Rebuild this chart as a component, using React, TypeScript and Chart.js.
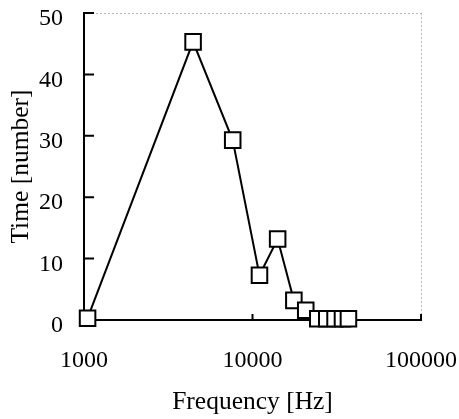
import React, { useEffect, useRef } from "react";
import { Chart, registerables } from "chart.js";

Chart.register(...registerables);

const frequencyHz = [1050, 4440, 7630, 11000, 14100, 17600, 20700, 24400, 27600, 30900, 34200, 37100];
const timeNumber = [0.3, 45.3, 29.3, 7.3, 13.2, 3.2, 1.6, 0.2, 0.2, 0.2, 0.2, 0.2];
const xTickValues = [1000, 10000, 100000];
const yTickValues = [0, 10, 20, 30, 40, 50];

const FONT = "'Liberation Serif', 'Times New Roman', serif";

const decorPlugin = {
  id: "decor",
  afterDraw(chart: any) {
    const { ctx, chartArea, scales } = chart;
    const { left, right, top, bottom } = chartArea;
    ctx.save();
    ctx.strokeStyle = "#b8b8b8";
    ctx.lineWidth = 1;
    ctx.setLineDash([2, 2]);
    ctx.beginPath();
    ctx.moveTo(left, top + 0.5);
    ctx.lineTo(right, top + 0.5);
    ctx.moveTo(right + 0.5, top);
    ctx.lineTo(right + 0.5, bottom);
    ctx.stroke();
    ctx.setLineDash([]);
    ctx.strokeStyle = "#000";
    ctx.lineWidth = 2;
    ctx.beginPath();
    for (const v of yTickValues) {
      if (v === 0) continue;
      const y = scales.y.getPixelForValue(v);
      ctx.moveTo(left, y);
      ctx.lineTo(left + 10, y);
    }
    for (const v of xTickValues) {
      if (v === 1000) continue;
      const x = scales.x.getPixelForValue(v);
      ctx.moveTo(x, bottom);
      ctx.lineTo(x, bottom - 6);
    }
    ctx.stroke();
    ctx.restore();
  },
};

const zeroPad = (scale: any) => {
  scale.paddingTop = 0;
  scale.paddingBottom = 0;
  scale.paddingLeft = 0;
  scale.paddingRight = 0;
};

export default function App() {
  const canvasRef = useRef<HTMLCanvasElement | null>(null);

  useEffect(() => {
    if (!canvasRef.current) return;
    const chart = new Chart(canvasRef.current, {
      type: "line",
      data: {
        datasets: [
          {
            data: frequencyHz.map((f, i) => ({ x: f, y: timeNumber[i] })),
            borderColor: "#000",
            borderWidth: 2,
            backgroundColor: "#fff",
            pointStyle: "rect",
            pointRadius: 11,
            pointHoverRadius: 11,
            pointBorderWidth: 2,
            pointBorderColor: "#000",
            pointBackgroundColor: "#fff",
            tension: 0,
            clip: false as any,
          },
        ],
      },
      options: {
        animation: false,
        responsive: false,
        maintainAspectRatio: false,
        events: [],
        layout: { padding: { left: 0, right: 38, top: 12, bottom: 0 } },
        plugins: {
          legend: { display: false },
          tooltip: { enabled: false },
        },
        scales: {
          x: {
            type: "logarithmic",
            min: 1000,
            max: 100000,
            afterBuildTicks: (scale: any) => {
              scale.ticks = xTickValues.map((v) => ({ value: v }));
            },
            afterFit: (scale: any) => {
              scale.height = 99;
              zeroPad(scale);
            },
            grid: { display: false, drawTicks: false },
            border: { display: true, color: "#000", width: 2 },
            ticks: {
              color: "#000",
              font: { family: FONT, size: 24 },
              padding: 26,
              maxRotation: 0,
              autoSkip: false,
              callback: (v: any) => String(v),
            },
            title: {
              display: true,
              text: "Frequency [Hz]",
              color: "#000",
              font: { family: FONT, size: 25.5 },
              padding: { top: 0, bottom: 1 },
            },
          },
          y: {
            type: "linear",
            min: 0,
            max: 50,
            afterBuildTicks: (scale: any) => {
              scale.ticks = yTickValues.map((v) => ({ value: v }));
            },
            afterFit: (scale: any) => {
              scale.width = 84;
              zeroPad(scale);
            },
            grid: { display: false, drawTicks: false },
            border: { display: true, color: "#000", width: 2 },
            ticks: {
              color: "#000",
              font: { family: FONT, size: 24 },
              padding: 21,
              labelOffset: 6,
              callback: (v: any) => String(v),
            },
            title: {
              display: true,
              text: "Time [number]",
              color: "#000",
              font: { family: FONT, size: 25.5 },
              padding: { top: 6, bottom: 0 },
            },
          },
        },
      },
      plugins: [decorPlugin],
    });
    return () => chart.destroy();
  }, []);

  return (
    <div style={{ position: "fixed", left: 0, top: 0, width: 459, height: 419, background: "#fff" }}>
      <canvas ref={canvasRef} width={459} height={419} style={{ display: "block" }} />
    </div>
  );
}
